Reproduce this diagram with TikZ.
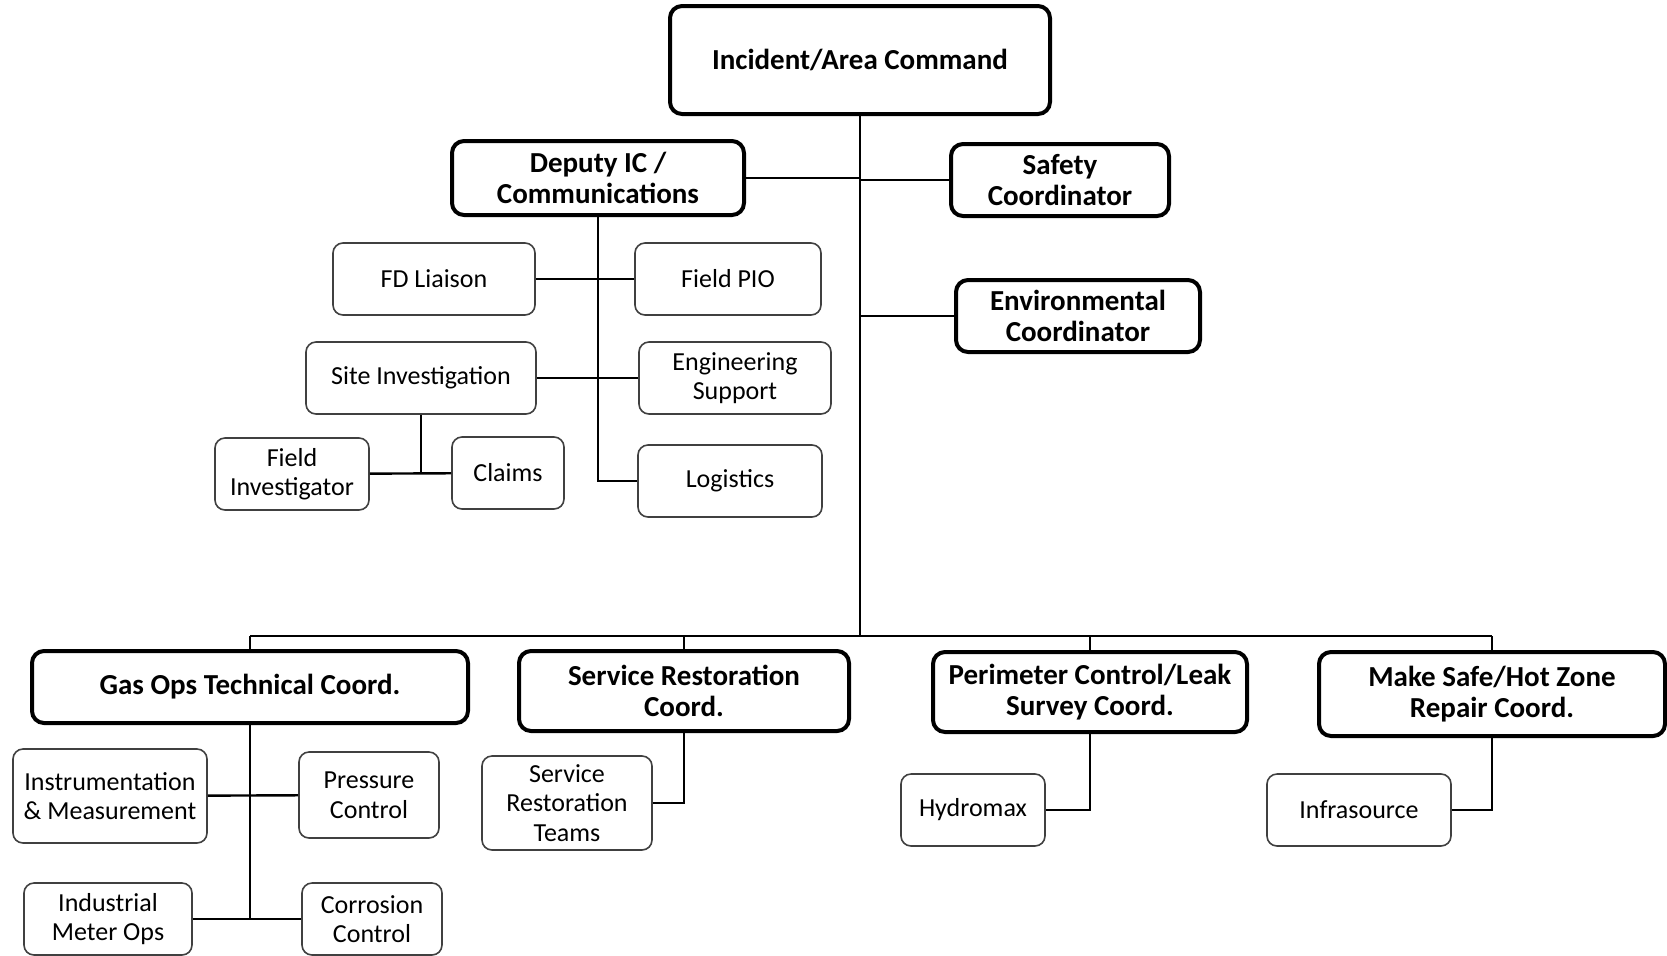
\documentclass[tikz,border=0pt]{standalone}
\usepackage{fontspec}
\setmainfont{Carlito}
\usetikzlibrary{positioning}
\tikzset{every picture/.style={line width=1.2pt}}

\begin{document}
\begin{tikzpicture}[x=0.5pt,y=-0.5pt,
hd/.style={draw, rounded corners=6pt, line width=2pt, align=center, inner sep=2pt, font=\fontsize{14.5}{15.5}\selectfont\bfseries},
sb/.style={draw=black!75, rounded corners=5pt, line width=0.8pt, align=center, inner sep=2pt, font=\fontsize{13}{14.8}\selectfont}]
\useasboundingbox (0,0) rectangle (1667,955);
% command level
\node (cmd) at (860,60) [hd,minimum width=190pt,minimum height=54pt] {Incident/Area Command};
\node (dep) at (598,178) [hd,minimum width=146pt,minimum height=37pt] {Deputy IC /\\Communications};
\node (safe) at (1060,180) [hd,minimum width=109pt,minimum height=36pt] {Safety\\Coordinator};
\node (env) at (1078,316) [hd,minimum width=122pt,minimum height=36pt] {Environmental\\Coordinator};
% deputy staff
\node (fd) at (434,279) [sb,minimum width=101pt,minimum height=36pt] {FD Liaison};
\node (pio) at (728,279) [sb,minimum width=93pt,minimum height=36pt] {Field PIO};
\node (site) at (421,378) [sb,minimum width=115pt,minimum height=36pt] {Site Investigation};
\node (eng) at (735,378) [sb,minimum width=96pt,minimum height=36pt] {Engineering\\Support};
\node (fi) at (292,474) [sb,minimum width=77pt,minimum height=36pt] {Field\\Investigator};
\node (claims) at (508,473) [sb,minimum width=56pt,minimum height=36pt] {Claims};
\node (logi) at (730,481) [sb,minimum width=92pt,minimum height=36pt] {Logistics};
% coordinators
\coordinate (bus) at (860,636);
\node (gas) at (250,687) [hd,minimum width=218pt,minimum height=36pt] {Gas Ops Technical Coord.};
\node (sr) at (684,691) [hd,minimum width=165pt,minimum height=40pt] {Service Restoration\\Coord.};
\node (peri) at (1090,692) [hd,minimum width=157pt,minimum height=40pt] {Perimeter Control/Leak\\Survey Coord.};
\node (make) at (1492,694) [hd,minimum width=173pt,minimum height=42pt] {Make Safe/Hot Zone\\Repair Coord.};
% field units
\node (inst) at (110,796) [sb,minimum width=97pt,minimum height=47pt] {Instrumentation\\\& Measurement};
\node (pres) at (369,795) [sb,minimum width=70pt,minimum height=43pt] {Pressure\\Control};
\node (ind) at (108,919) [sb,minimum width=84pt,minimum height=36pt] {Industrial\\Meter Ops};
\node (corr) at (372,919) [sb,minimum width=70pt,minimum height=36pt] {Corrosion\\Control};
\node (srt) at (567,803) [sb,minimum width=85pt,minimum height=47pt] {Service\\Restoration\\Teams};
\node (hyd) at (973,810) [sb,minimum width=72pt,minimum height=36pt] {Hydromax};
\node (infra) at (1359,810) [sb,minimum width=92pt,minimum height=36pt] {Infrasource};
% connectors
\draw (cmd) -- (bus);
\draw (dep) -- (dep -| bus);
\draw (safe) -- (safe -| bus);
\draw (env) -- (env -| bus);
\draw (dep) |- (logi);
\draw (fd) -- (pio);
\draw (site) -- (eng);
\draw (site) -- (site |- claims);
\draw (fi) -- (claims);
\draw (gas |- bus) -- (make |- bus);
\foreach \n in {gas,sr,peri,make}
  \draw (\n |- bus) -- (\n);
\draw (gas) -- (gas |- corr);
\draw (inst) -- (pres);
\draw (ind) -- (corr);
\draw (sr) |- (srt);
\draw (peri) |- (hyd);
\draw (make) |- (infra);
\end{tikzpicture}
\end{document}
